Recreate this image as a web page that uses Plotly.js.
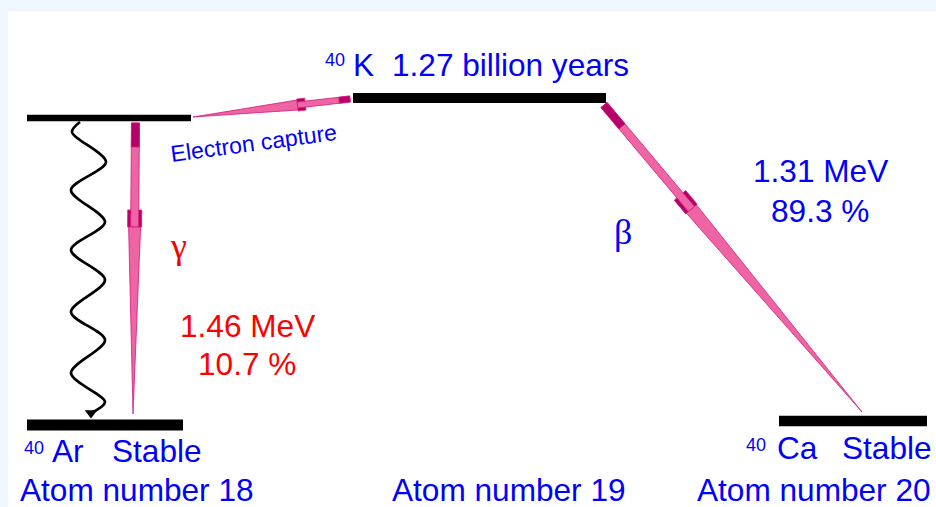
<!DOCTYPE html>
<html><head><meta charset="utf-8">
<script src="https://cdn.plot.ly/plotly-3.0.1.min.js"></script>
<style>html,body{margin:0;padding:0;overflow:hidden;background:#fff}</style>
</head><body><div id="chart" style="width:936px;height:507px"></div>
<script>
// ---- Data ----
// Energy levels (horizontal bars)
const levelNames  = ['40Ar excited', '40K', '40Ar ground', '40Ca ground'];
const levelStartX = [27, 353, 27, 779];
const levelEndX   = [191, 606, 183, 927];
const levelY      = [118, 98, 425, 421];

// Transitions: wide end -> tip
const transNames = ['gamma', 'electron capture', 'beta'];
const transFromX = [135.5, 350, 604];
const transFromY = [123, 99, 105];
const transToX   = [133, 193, 862];
const transToY   = [414, 117, 412];

// Photon wave (turning points)
const waveX = [80, 72, 106, 71, 105, 71, 105, 71, 105, 71, 105, 91];
const waveY = [122, 132, 162, 190, 222, 250, 280, 312, 340, 373, 402, 413];

// Text content
const massNumber  = '40';
const nuclides    = ['Ar', 'K', 'Ca'];
const atomNumbers = [18, 19, 20];
const halfLife    = '1.27 billion years';
const stableText  = 'Stable';
const ecText      = 'Electron capture';
const gammaSym    = 'γ';
const betaSym     = 'β';
const energies    = ['1.46 MeV', '1.31 MeV'];
const branches    = ['10.7 %', '89.3 %'];

// ---- Styling / drawing ----
const F = 'Arial, "Liberation Sans", sans-serif';
const SERIF = '"Liberation Serif", "Times New Roman", serif';
const BLUE = '#0000ff', RED = '#ff0000';
const PINK = '#ef64a2', DARK = '#b5006a', EDGE = '#d41a7c';

const traces = [];

// wave
traces.push({x: waveX, y: waveY, mode: 'lines', line: {color: '#000', width: 2.7, shape: 'spline', smoothing: 0.9}, hoverinfo: 'skip'});
traces.push({x: [waveX[waveX.length-1]], y: [waveY[waveY.length-1]], mode: 'markers',
  marker: {symbol: 'triangle-down', size: 11, color: '#000'}, hoverinfo: 'skip'});

// levels
const levelWidths = [6.5, 10, 11, 10.5];
levelNames.forEach((n, i) => {
  traces.push({x: [levelStartX[i], levelEndX[i]], y: [levelY[i], levelY[i]], mode: 'lines',
    line: {color: '#000', width: levelWidths[i]}, name: n, hoverinfo: 'skip'});
});

// arrows
const arrowParams = [
  {darkLen: 24, shaftW: 8, collarAt: 87, collarLen: 17, collarW: 14, wedgeW: 12},
  {darkLen: 11, shaftW: 6, collarAt: 45, collarLen: 8, collarW: 12, wedgeW: 10},
  {darkLen: 28, shaftW: 8, collarAt: 118, collarLen: 18, collarW: 15, wedgeW: 13}
];
function arrow(sx, sy, tx, ty, p) {
  const dx = tx - sx, dy = ty - sy, L = Math.hypot(dx, dy);
  const ux = dx / L, uy = dy / L, nx = -uy, ny = ux;
  const pt = (d, w) => [sx + ux * d + nx * w, sy + uy * d + ny * w];
  const rect = (d0, d1, w) => [pt(d0, -w/2), pt(d1, -w/2), pt(d1, w/2), pt(d0, w/2), pt(d0, -w/2)];
  const ce = p.collarAt + p.collarLen;
  const polys = [
    [rect(p.collarAt, ce, p.collarW), DARK],
    [rect(0, ce, p.shaftW), PINK],
    [rect(0, p.darkLen, p.shaftW), DARK],
    [[pt(ce, -p.wedgeW/2), pt(L, 0), pt(ce, p.wedgeW/2), pt(ce, -p.wedgeW/2)], PINK]
  ];
  polys.forEach(([pts, col]) => {
    traces.push({x: pts.map(q => q[0]), y: pts.map(q => q[1]), mode: 'lines', fill: 'toself',
      fillcolor: col, line: {color: EDGE, width: 0.8}, hoverinfo: 'skip'});
  });
}
transNames.forEach((n, i) => arrow(transFromX[i], transFromY[i], transToX[i], transToY[i], arrowParams[i]));

function txt(text, x, base, size, color, xanchor, family) {
  return {xref: 'x', yref: 'y', x: x, y: base - 0.35 * size, xanchor: xanchor, yanchor: 'middle',
    text: text, showarrow: false, borderpad: 0, borderwidth: 0,
    font: {family: family || F, size: size, color: color}};
}
const S = 31.6;
const annotations = [
  txt(massNumber, 325, 66, 18, BLUE, 'left'),
  txt(nuclides[1], 352.7, 76, S, BLUE, 'left'),
  txt(halfLife, 391.5, 76, S, BLUE, 'left'),
  {xref: 'x', yref: 'y', x: 253, y: 143, xanchor: 'center', yanchor: 'middle', text: ecText,
   showarrow: false, textangle: -7.6, font: {family: F, size: 23, color: BLUE}},
  txt(gammaSym, 178.5, 259, 36, RED, 'center', SERIF),
  txt(energies[0], 247, 337, S, RED, 'center'),
  txt(branches[0], 246.5, 375, S, RED, 'center'),
  txt(betaSym, 622.5, 245, 36, BLUE, 'center', SERIF),
  txt(energies[1], 820.5, 181.7, S, BLUE, 'center'),
  txt(branches[1], 820, 221.7, S, BLUE, 'center'),
  txt(massNumber, 24, 454.5, 18, BLUE, 'left'),
  txt(nuclides[0], 51.7, 461.7, S, BLUE, 'left'),
  txt(stableText, 111.7, 461.7, S, BLUE, 'left'),
  txt('Atom number ' + atomNumbers[0], 20, 501.5, S, BLUE, 'left'),
  txt('Atom number ' + atomNumbers[1], 392, 501.5, S, BLUE, 'left'),
  txt(massNumber, 746, 451, 18, BLUE, 'left'),
  txt(nuclides[2], 776.7, 459, S, BLUE, 'left'),
  txt(stableText, 932, 459, S, BLUE, 'right'),
  txt('Atom number ' + atomNumbers[2], 931, 501.5, S, BLUE, 'right')
];

const layout = {
  width: 936, height: 507,
  margin: {l: 8, t: 11, r: 0, b: 0, pad: 0},
  paper_bgcolor: '#eef7ff', plot_bgcolor: '#ffffff',
  showlegend: false,
  xaxis: {range: [8, 936], visible: false, fixedrange: true},
  yaxis: {range: [507, 11], visible: false, fixedrange: true},
  annotations: annotations
};
Plotly.newPlot('chart', traces, layout, {staticPlot: true, displayModeBar: false});
</script>
</body></html>
